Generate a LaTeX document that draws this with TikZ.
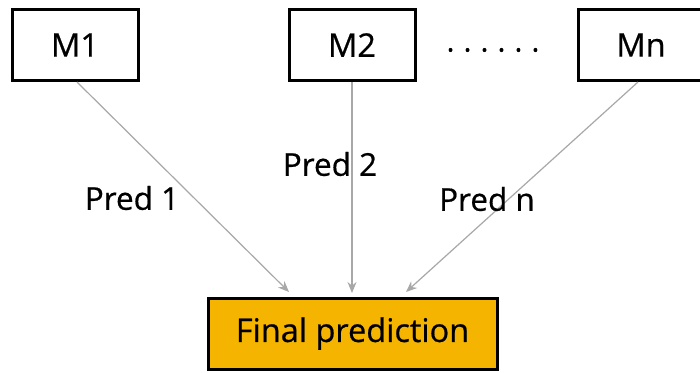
\documentclass[tikz,border=0pt]{standalone}
\usepackage{fontspec}
\setmainfont{Open Sans}[FakeBold=0.6]
\usetikzlibrary{arrows.meta}
\definecolor{finalfill}{HTML}{F4B400}
\definecolor{linkgray}{HTML}{A8A8A8}
\tikzset{
  model/.style={draw=black, line width=3pt, fill=white, minimum width=126pt, minimum height=71pt, inner sep=0pt, font=\fontsize{32.5}{38}\selectfont},
  final/.style={draw=black, line width=3pt, fill=finalfill, minimum width=289pt, minimum height=71pt, inner sep=0pt, font=\fontsize{32.5}{38}\selectfont},
  link/.style={draw=linkgray, line width=1.2pt, -{Stealth[length=11pt, width=9pt]}},
  predlabel/.style={font=\fontsize{31.5}{37}\selectfont, inner sep=0pt}
}
\begin{document}
\begin{tikzpicture}[x=1pt, y=-1pt]
  \useasboundingbox (0,0) rectangle (700,372);
  \fill[white] (0,0) rectangle (700,372);
  % model boxes
  \node[model] (m1) at (75,45) {M1};
  \node[model] (m2) at (352,45) {M2};
  \node[model] (mn) at (641,45) {Mn};
  \node[font=\fontsize{30}{36}\selectfont, inner sep=0pt] (dots) at (493,50) {.\hspace{9pt}.\hspace{9pt}.\hspace{9pt}.\hspace{9pt}.\hspace{9pt}.};
  % aggregated output
  \node[final] (fin) at (352.5,333.5) {Final prediction};
  \coordinate (t1) at (289,292);
  \coordinate (t2) at (352,293);
  \coordinate (tn) at (406,292);
  \draw[link] (m1.south) ++(2,0) -- (t1);
  \draw[link] (m2.south) -- (t2);
  \draw[link] (mn.south) ++(-3,0) -- (tn);
  % prediction labels
  \node[predlabel] (p1) at (132,198) {Pred 1};
  \node[predlabel] (p2) at (330,164) {Pred 2};
  \node[predlabel] (pn) at (487,199) {Pred n};
\end{tikzpicture}
\end{document}
